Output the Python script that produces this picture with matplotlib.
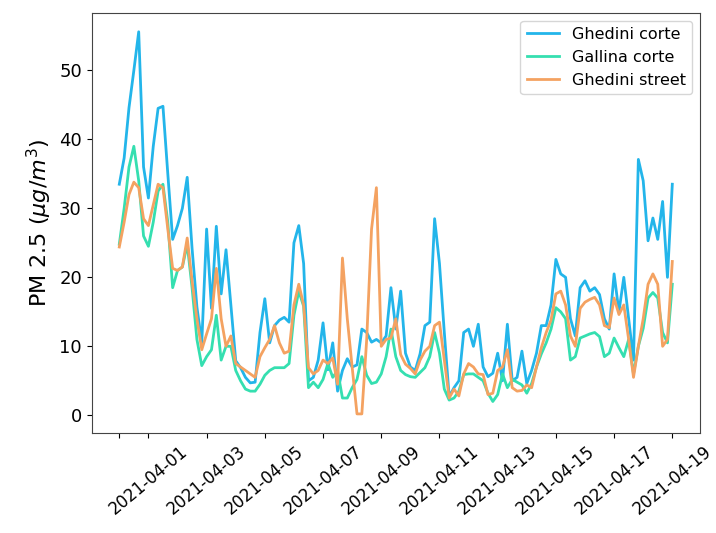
import numpy as np
import pandas as pd
import matplotlib
matplotlib.use('Agg')
import matplotlib.pyplot as plt

# 4-hourly samples from 2021-03-31 00:00 to 2021-04-19 00:00
start = '2021-03-31 00:00'
freq = '4h'

ghedini_corte = [
    33.5, 37.3, 44.6, 50.0, 55.6, 36.0, 31.5, 39.0, 44.5, 44.8,
    35.0, 25.5, 27.5, 30.0, 34.5, 24.2, 15.7, 10.5, 27.0, 15.5,
    27.4, 17.6, 24.0, 16.0, 7.9, 6.9, 5.5, 4.7, 4.8, 12.0,
    16.9, 10.5, 13.0, 13.8, 14.2, 13.5, 25.0, 27.5, 22.0, 5.0,
    5.5, 8.0, 13.4, 6.6, 10.5, 3.5, 6.5, 8.2, 7.0, 7.3,
    12.5, 12.0, 10.6, 11.0, 10.5, 11.5, 18.5, 12.5, 18.0, 9.0,
    7.0, 6.5, 8.9, 13.0, 13.5, 28.5, 22.0, 12.0, 2.7, 4.0,
    5.0, 12.0, 12.5, 10.0, 13.2, 7.0, 5.6, 6.1, 9.0, 5.0,
    13.2, 5.0, 5.5, 9.3, 4.6, 6.5, 9.0, 13.0, 13.0, 16.0,
    22.6, 20.5, 20.0, 14.0, 11.5, 18.5, 19.5, 18.0, 18.5, 17.5,
    14.0, 12.5, 20.5, 15.0, 20.0, 14.0, 8.0, 37.1, 34.0, 25.3,
    28.6, 25.5, 31.0, 20.0, 33.5,
]

gallina_corte = [
    24.8, 30.0, 36.0, 39.0, 34.0, 26.0, 24.5, 28.0, 32.5, 33.5,
    28.0, 18.5, 21.0, 21.5, 24.8, 18.5, 11.0, 7.2, 8.5, 9.5,
    14.5, 8.0, 10.0, 10.0, 6.5, 5.0, 3.8, 3.5, 3.5, 4.5,
    5.8, 6.5, 6.9, 6.9, 6.9, 7.5, 14.5, 18.0, 15.8, 4.0,
    4.8, 4.0, 5.2, 7.5, 5.5, 6.5, 2.5, 2.5, 4.0, 5.2,
    8.5, 5.8, 4.6, 4.8, 6.0, 8.5, 12.5, 8.5, 6.5, 5.9,
    5.6, 5.5, 6.2, 6.9, 8.5, 12.0, 9.0, 3.8, 2.2, 2.5,
    3.5, 5.9, 6.0, 6.0, 5.5, 5.0, 3.2, 2.0, 3.0, 6.0,
    4.0, 5.2, 4.8, 4.4, 3.2, 4.6, 7.0, 8.9, 10.5, 12.5,
    15.6, 15.0, 14.0, 8.0, 8.5, 11.2, 11.5, 11.8, 12.0, 11.4,
    8.5, 9.0, 11.2, 9.8, 8.5, 11.0, 6.0, 10.0, 12.6, 17.0,
    17.8, 17.0, 12.0, 10.5, 19.0,
]

ghedini_street = [
    24.4, 28.0, 32.0, 33.8, 33.0, 28.5, 27.5, 30.5, 33.5, 33.0,
    27.0, 21.3, 21.0, 21.5, 25.7, 19.5, 14.0, 9.5, 11.8, 14.0,
    21.3, 14.0, 10.0, 11.5, 7.5, 7.0, 6.5, 6.0, 5.5, 8.5,
    9.8, 11.0, 13.0, 10.5, 9.0, 9.3, 16.0, 19.0, 16.0, 6.9,
    6.0, 6.5, 8.0, 7.5, 8.3, 4.5, 22.8, 14.0, 7.0, 0.2,
    0.2, 11.0, 27.0, 33.0, 10.0, 11.0, 11.2, 14.0, 8.8, 7.4,
    6.8, 6.0, 8.0, 9.3, 10.0, 13.0, 13.5, 8.0, 2.5, 3.8,
    2.8, 6.0, 7.5, 7.0, 6.0, 5.9, 3.0, 3.2, 6.5, 7.0,
    9.5, 4.0, 3.5, 3.6, 4.4, 4.0, 7.0, 9.8, 12.0, 13.8,
    17.6, 18.0, 16.0, 11.5, 10.0, 15.5, 16.4, 16.8, 17.1, 16.0,
    13.0, 12.7, 17.0, 14.6, 16.0, 11.0, 5.5, 10.0, 14.0, 19.0,
    20.5, 19.0, 10.0, 11.0, 22.3,
]

series_names = ['Ghedini corte', 'Gallina corte', 'Ghedini street']
colors = ['#23b5ea', '#35dfb0', '#f4a261']

tick_dates = ['2021-03-31'] + ['2021-04-%02d' % d for d in range(1, 20, 2)]
tick_labels = [''] + tick_dates[1:]

times = pd.date_range(start, periods=len(ghedini_corte), freq=freq)

fig = plt.figure(figsize=(7.16, 5.33), dpi=100)
ax = fig.add_axes([0.128, 0.1876, 0.8496, 0.7886])

for name, vals, c in zip(series_names, [ghedini_corte, gallina_corte, ghedini_street], colors):
    ax.plot(times, vals, color=c, lw=2, label=name)

ax.set_xticks(pd.to_datetime(tick_dates))
ax.set_xticklabels(tick_labels, rotation=40, fontsize=12)
ax.tick_params(axis='y', labelsize=13)
ax.set_yticks([0, 10, 20, 30, 40, 50])
ax.set_ylabel(r'PM 2.5 ($\mu g/m^3$)', fontsize=16)

for s in ax.spines.values():
    s.set_color('#444444')

ax.legend(loc='upper right', fontsize=11.5)

plt.savefig('out.png', dpi=100)
